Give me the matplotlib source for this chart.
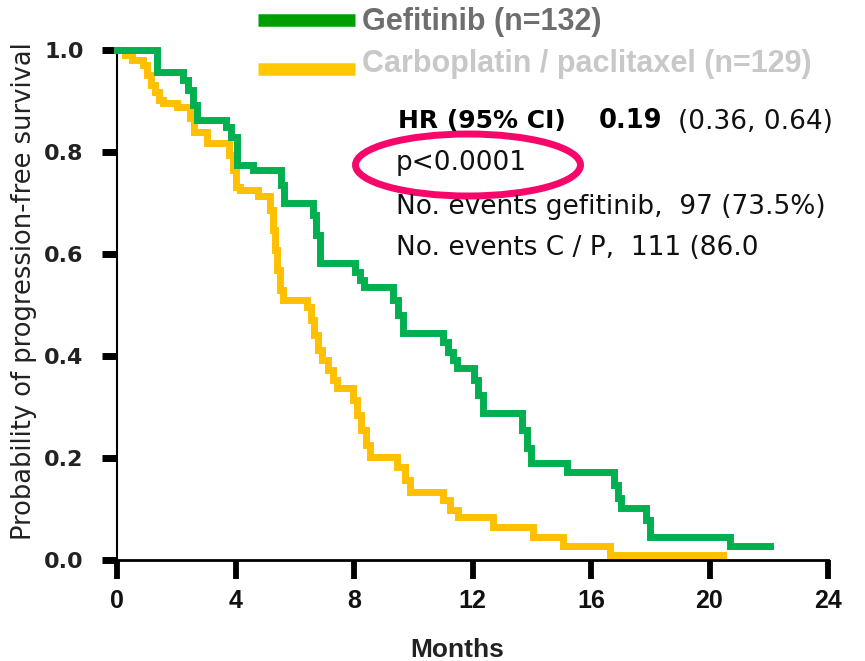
import matplotlib
matplotlib.use("Agg")
import matplotlib.pyplot as plt
from matplotlib.lines import Line2D
from matplotlib.patches import Ellipse

# Kaplan-Meier steps (month of drop, survival after it)
gef_months = [0, 1.35, 2.23, 2.40, 2.57, 2.70, 3.68, 3.85, 4.05, 4.59, 5.54, 5.64,
              6.62, 6.72, 6.85, 8.03, 8.20, 8.34, 9.32, 9.49, 9.65, 11.00, 11.17,
              11.34, 11.48, 12.05, 12.19, 12.35, 13.67, 13.84, 13.97, 15.19, 16.78,
              16.91, 17.01, 17.86, 17.99, 20.69, 22.04]
gef_surv = [1.0, 0.957, 0.941, 0.922, 0.892, 0.863, 0.849, 0.829, 0.775, 0.765, 0.735,
            0.700, 0.676, 0.637, 0.582, 0.565, 0.549, 0.535, 0.510, 0.480, 0.445, 0.427,
            0.408, 0.392, 0.376, 0.353, 0.324, 0.288, 0.255, 0.220, 0.190, 0.173, 0.147,
            0.122, 0.102, 0.078, 0.045, 0.027, 0.027]

carbo_months = [0, 0.27, 0.51, 0.88, 1.01, 1.15, 1.28, 1.42, 1.55, 2.03, 2.46, 2.60,
                3.04, 3.78, 3.92, 4.02, 4.15, 4.76, 5.16, 5.27, 5.33, 5.40, 5.50, 5.60,
                6.41, 6.55, 6.65, 6.78, 6.92, 7.12, 7.29, 7.43, 7.97, 8.10, 8.24, 8.41,
                8.54, 9.45, 9.72, 9.89, 11.00, 11.24, 11.51, 12.69, 14.04, 15.05, 16.64,
                20.46]
carbo_surv = [1.0, 0.99, 0.98, 0.97, 0.951, 0.931, 0.918, 0.902, 0.896, 0.888, 0.867,
              0.839, 0.818, 0.794, 0.765, 0.731, 0.725, 0.714, 0.686, 0.647, 0.608, 0.569,
              0.529, 0.51, 0.496, 0.47, 0.441, 0.412, 0.392, 0.373, 0.353, 0.337, 0.314,
              0.284, 0.255, 0.225, 0.202, 0.182, 0.157, 0.133, 0.118, 0.098, 0.084, 0.065,
              0.045, 0.027, 0.01, 0.01]

x_ticks = [0, 4, 8, 12, 16, 20, 24]
y_ticks = [0.0, 0.2, 0.4, 0.6, 0.8, 1.0]

legend_labels = ["Gefitinib (n=132)", "Carboplatin / paclitaxel (n=129)"]
stats_lines = ["p<0.0001", "No. events gefitinib,  97 (73.5%)", "No. events C / P,  111 (86.0"]

W, H = 865, 661
def fx(px):
    return px / W
def fy(py):
    return 1 - py / H

fig = plt.figure(figsize=(W / 100, H / 100), dpi=100)
ax = fig.add_axes([fx(117), fy(560), 711 / W, 510 / H])

# curves (green on top)
ax.step(carbo_months, carbo_surv, where="post", color="#ffc000", lw=5,
        solid_joinstyle="miter", clip_on=False, zorder=3)
ax.step(gef_months, gef_surv, where="post", color="#00b050", lw=5,
        solid_joinstyle="miter", clip_on=False, zorder=4)

ax.set_xlim(0, 24)
ax.set_ylim(0, 1.0)
ax.set_xticks(x_ticks)
ax.set_yticks(y_ticks)
ax.set_yticklabels(["%.1f" % v for v in y_ticks], family="DejaVu Sans",
                   fontweight="bold", fontsize=16, color="#222222")
ax.set_xticklabels([str(v) for v in x_ticks],
                   family=["Liberation Sans Narrow", "Liberation Sans"],
                   fontweight="bold", fontsize=18, color="#111111")
ax.tick_params(axis="y", length=11, width=5, pad=13, color="black")
ax.tick_params(axis="x", length=14, width=4.2, pad=7, color="black")
for s in ["top", "right"]:
    ax.spines[s].set_visible(False)
ax.spines["left"].set_linewidth(1.5)
ax.spines["bottom"].set_linewidth(2)

fig.text(fx(24), fy(291), "Probability of progression-free survival", rotation=90,
         ha="center", va="center", family="DejaVu Sans", fontsize=18.5, color="#222222")
fig.text(fx(457), fy(650), "Months", ha="center", va="center",
         family="Liberation Sans", fontweight="bold", fontsize=19, color="#222222")

# legend drawn by hand at top
fig.add_artist(Line2D([fx(258), fx(355)], [fy(20), fy(20)], color="#009e00", lw=9,
                      solid_capstyle="butt"))
fig.add_artist(Line2D([fx(258), fx(355)], [fy(69), fy(69)], color="#ffc800", lw=9,
                      solid_capstyle="butt"))
fig.text(fx(362), fy(22), legend_labels[0], ha="left", va="center",
         family="Liberation Sans", fontweight="bold", fontsize=22, color="#6e6e6e")
fig.text(fx(362), fy(64), legend_labels[1], ha="left", va="center",
         family="Liberation Sans", fontweight="bold", fontsize=22, color="#c8c8c8")

# stats block
fig.text(fx(398), fy(121), "HR (95% CI)", ha="left", va="center",
         family="DejaVu Sans", fontweight="bold", fontsize=18, color="black")
fig.text(fx(599), fy(121), "0.19", ha="left", va="center",
         family="DejaVu Sans", fontweight="bold", fontsize=18.5, color="black")
fig.text(fx(678), fy(122), "(0.36, 0.64)", ha="left", va="center",
         family="DejaVu Sans", fontsize=19, color="#111111")
for txt, py in zip(stats_lines, [163, 207, 248]):
    fig.text(fx(396), fy(py), txt, ha="left", va="center",
             family="DejaVu Sans", fontsize=19, color="#111111")

fig.add_artist(Ellipse((fx(468), fy(165)), 225 / W, 62 / H, transform=fig.transFigure,
                       fill=False, edgecolor="#f5086a", lw=5))

fig.savefig("out.png", dpi=100)
